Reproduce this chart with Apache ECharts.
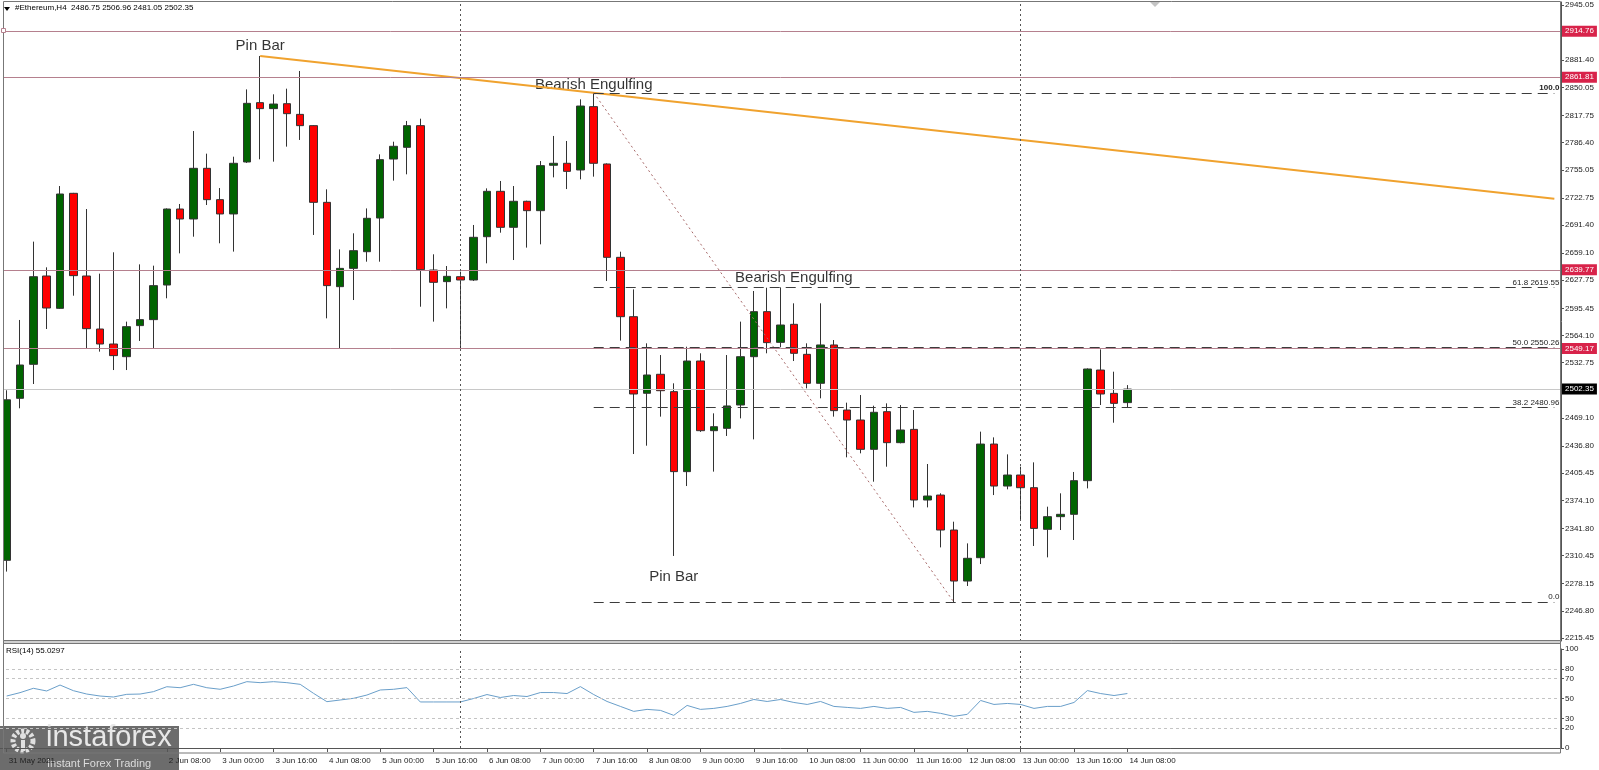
<!DOCTYPE html>
<html><head><meta charset="utf-8">
<script src="https://cdn.jsdelivr.net/npm/echarts@6/dist/echarts.min.js"></script>
<style>html,body{margin:0;padding:0;background:#fff}#c{width:1599px;height:770px}</style>
</head><body><div id="c"></div>
<script>
// ---- data ----
const categories = ['31 May 08:00','31 May 12:00','31 May 16:00','31 May 20:00',
'1 Jun 00:00','1 Jun 04:00','1 Jun 08:00','1 Jun 12:00','1 Jun 16:00','1 Jun 20:00',
'2 Jun 00:00','2 Jun 04:00','2 Jun 08:00','2 Jun 12:00','2 Jun 16:00','2 Jun 20:00',
'3 Jun 00:00','3 Jun 04:00','3 Jun 08:00','3 Jun 12:00','3 Jun 16:00','3 Jun 20:00',
'4 Jun 00:00','4 Jun 04:00','4 Jun 08:00','4 Jun 12:00','4 Jun 16:00','4 Jun 20:00',
'5 Jun 00:00','5 Jun 04:00','5 Jun 08:00','5 Jun 12:00','5 Jun 16:00','5 Jun 20:00',
'6 Jun 00:00','6 Jun 04:00','6 Jun 08:00','6 Jun 12:00','6 Jun 16:00','6 Jun 20:00',
'7 Jun 00:00','7 Jun 04:00','7 Jun 08:00','7 Jun 12:00','7 Jun 16:00','7 Jun 20:00',
'8 Jun 00:00','8 Jun 04:00','8 Jun 08:00','8 Jun 12:00','8 Jun 16:00','8 Jun 20:00',
'9 Jun 00:00','9 Jun 04:00','9 Jun 08:00','9 Jun 12:00','9 Jun 16:00','9 Jun 20:00',
'10 Jun 00:00','10 Jun 04:00','10 Jun 08:00','10 Jun 12:00','10 Jun 16:00','10 Jun 20:00',
'11 Jun 00:00','11 Jun 04:00','11 Jun 08:00','11 Jun 12:00','11 Jun 16:00','11 Jun 20:00',
'12 Jun 00:00','12 Jun 04:00','12 Jun 08:00','12 Jun 12:00','12 Jun 16:00','12 Jun 20:00',
'13 Jun 00:00','13 Jun 04:00','13 Jun 08:00','13 Jun 12:00','13 Jun 16:00','13 Jun 20:00',
'14 Jun 00:00','14 Jun 04:00','14 Jun 08:00'];
const padCount = 32; // empty bars to the right of the last candle

const opens = [2305,2491.7,2530.9,2632.7,2595.4,2728.0,2632.7,2571.6,2554.3,2539.7,
2575.5,2582.4,2622.3,2709.9,2698.4,2756.8,2720.7,2704.2,2764.1,2832.5,
2825.6,2831.3,2819.0,2806.0,2717.6,2620.4,2641.5,2660.7,2699.5,2767.5,
2781.0,2806.0,2639.6,2626.2,2631.9,2628.1,2678.0,2730.3,2688.8,2718.8,
2708.0,2760.3,2762.6,2754.9,2827.9,2761.8,2654.2,2585.8,2497.5,2519.4,
2499.4,2407.2,2534.7,2454.4,2457.1,2484.0,2539.7,2591.6,2556.2,2577.0,
2542.4,2509.0,2553.2,2478.2,2466.7,2432.9,2476.3,2440.6,2455.9,2374.5,
2380.2,2339.9,2281.1,2308.0,2439.0,2390.6,2403.3,2388.7,2340.7,2355.3,
2358.0,2396.8,2524.3,2497.4,2486.75];
const closes = [2490,2530.1,2631.9,2595.8,2727.2,2633.1,2572.0,2554.3,2540.9,2574.3,
2582.4,2621.6,2709.9,2698.4,2756.8,2720.7,2704.2,2762.6,2831.7,2825.6,
2830.9,2819.8,2806.0,2717.6,2621.6,2641.5,2661.9,2699.2,2766.8,2782.2,
2806.0,2640.0,2625.4,2632.3,2628.1,2677.3,2730.3,2688.8,2718.8,2708.0,
2759.9,2762.6,2753.3,2828.6,2762.6,2654.2,2585.8,2496.7,2518.6,2500.5,
2407.2,2534.7,2454.4,2459.0,2482.9,2539.7,2591.6,2555.9,2576.2,2543.6,
2509.0,2553.2,2477.5,2466.7,2432.9,2475.6,2440.6,2455.2,2374.5,2379.1,
2339.9,2281.1,2307.3,2439.0,2390.6,2403.3,2388.7,2341.8,2355.3,2358.0,
2396.8,2525.5,2496.7,2485.9,2502.35];
const lows = [2292,2480.2,2508.2,2571.6,2594.7,2610.0,2548.9,2545.5,2524.3,2524.3,
2557.8,2548.9,2607.0,2658.8,2678.0,2714.5,2670.4,2660.8,2763.0,2767.2,
2764.5,2781.8,2789.5,2680.0,2583.9,2549.3,2605.0,2649.2,2649.2,2742.6,
2749.9,2597.3,2580.1,2595.4,2549.3,2627.0,2647.3,2682.6,2651.1,2665.4,
2669.2,2746.4,2732.9,2744.1,2747.2,2626.9,2558.2,2427.5,2437.1,2470.6,
2310.0,2390.6,2453.0,2407.2,2448.3,2468.6,2444.4,2543.6,2550.5,2534.7,
2503.2,2491.7,2470.6,2423.7,2428.3,2395.6,2412.9,2439.8,2366.0,2366.0,
2319.9,2256.64,2275.4,2300.7,2380.2,2386.8,2351.4,2321.5,2308.4,2339.9,
2328.4,2387.9,2484.0,2463.6,2481.05];
const highs = [2501,2582.0,2672.3,2642.7,2736.4,2728.5,2709.9,2635.4,2660.0,2580.1,
2646.1,2644.6,2710.6,2715.7,2799.8,2773.7,2734.1,2770.2,2847.8,2886.3,
2842.1,2848.6,2869.0,2806.5,2732.6,2663.4,2681.9,2710.6,2772.9,2787.5,
2811.4,2814.0,2657.7,2644.2,2637.7,2691.5,2733.7,2742.2,2736.4,2719.5,
2765.2,2794.1,2788.3,2836.3,2843.89,2762.5,2660.7,2617.3,2555.1,2541.6,
2509.0,2551.2,2543.6,2474.4,2541.6,2580.1,2615.4,2619.2,2619.6,2601.2,
2555.1,2601.2,2558.9,2486.7,2495.5,2483.2,2485.9,2484.0,2478.2,2416.0,
2382.2,2349.5,2324.5,2453.3,2446.7,2427.1,2412.9,2417.9,2366.8,2382.2,
2406.8,2526.2,2548.1,2522.4,2506.96];
const rsi = [52.5,55.9,60.3,57.6,63.6,57.9,54.5,52.5,51.5,54.2,
54.5,56.9,61.9,60.9,64.3,60.9,59.3,62.6,67,66,
67,66,64.3,55.2,46.8,48.5,50.2,53.5,58.6,59.3,
61,46.5,46.5,46.5,46.5,50,54,51,53,52,
56,56,55,62,54,47,42,37,39,38,
33,43,39,40,42,45,49,47,49,46,
44,47,42,41,40,42,40,41,36,37,
35,32,34,48,44,45,44,40,42,42,
46,58,55,53,55.03];

const priceTicks = [2945.05,2881.40,2850.05,2817.75,2786.40,2755.05,2722.75,2691.40,2659.10,
2627.75,2595.45,2564.10,2532.75,2469.10,2436.80,2405.45,2374.10,2341.80,2310.45,2278.15,2246.80,2215.45];
const rsiTicks = [0,20,30,50,70,80,100];
const rsiLevels = [20,30,50,70,80];
const levelPrices = [2914.76,2861.81,2639.77,2549.17];
const lastPrice = 2502.35;
const fibLevels = [
  {pct:'100.0', price:2843.89}, {pct:'61.8', price:2619.55}, {pct:'50.0', price:2550.26},
  {pct:'38.2', price:2480.96}, {pct:'0.0', price:2256.64}];
const fibStart = {idx:44, price:2843.89};
const fibEnd = {idx:71, price:2256.64};
const trendIdx = [19, 116];
const trendPrice = [2886.3, 2721.8];
const separatorIdx = [34, 76];
const xTickLabels = ['31 May 2021','','','2 Jun 08:00','3 Jun 00:00','3 Jun 16:00','4 Jun 08:00',
'5 Jun 00:00','5 Jun 16:00','6 Jun 08:00','7 Jun 00:00','7 Jun 16:00','8 Jun 08:00','9 Jun 00:00',
'9 Jun 16:00','10 Jun 08:00','11 Jun 00:00','11 Jun 16:00','12 Jun 08:00','13 Jun 00:00',
'13 Jun 16:00','14 Jun 08:00'];
const labelStep = 4;
const notes = [
  {text:'Pin Bar', idx:19, price:2897.8},
  {text:'Bearish Engulfing', idx:44, price:2852.8},
  {text:'Bearish Engulfing', idx:59, price:2630.9},
  {text:'Pin Bar', idx:50, price:2286.3}];

// ---- build ----
const allCats = categories.concat(Array.from({length: padCount}, (_, k) => 'pad' + k));
const lastCat = allCats[allCats.length - 1];
const candleData = opens.map((o, i) => [o, closes[i], lows[i], highs[i]]);
const FONT = 'Liberation Sans';
const FS = 8;

const mainLines = [];
levelPrices.forEach(v => mainLines.push({
  yAxis: v, symbol: ['none', v === levelPrices[0] ? 'emptyRect' : 'none'], symbolSize: 5,
  lineStyle: {color: '#b5808e', width: 1, type: 'solid'},
  label: {show: true, position: 'end', formatter: v.toFixed(2), backgroundColor: '#d8234a',
    color: '#fff', fontSize: FS, fontFamily: FONT, padding: [2, 3, 1, 3], distance: 1}
}));
mainLines.push({
  yAxis: lastPrice, lineStyle: {color: '#c8c8c8', width: 1, type: 'solid'},
  label: {show: true, position: 'end', formatter: lastPrice.toFixed(2), backgroundColor: '#000',
    color: '#fff', fontSize: FS, fontFamily: FONT, padding: [2, 3, 1, 3], distance: 1}
});
fibLevels.forEach(f => mainLines.push([
  {coord: [allCats[fibStart.idx], f.price],
   lineStyle: {color: '#3c3c3c', width: 1, type: [10, 6]},
   label: {show: true, position: 'insideEndTop', distance: [-5, 1],
     formatter: f.pct === '0.0' ? '0.0' : (f.pct === '100.0' ? '100.0' : f.pct + ' ' + f.price.toFixed(2)),
     color: '#222', fontSize: FS, fontFamily: FONT, fontWeight: f.pct === '100.0' ? 'bold' : 'normal'}},
  {coord: [lastCat, f.price]}
]));
separatorIdx.forEach(i => mainLines.push({
  xAxis: allCats[i], lineStyle: {color: '#555', width: 1, type: [2, 3]}, label: {show: false}
}));

const rsiLines = [];
rsiLevels.forEach(v => rsiLines.push({yAxis: v, lineStyle: {color: '#c4c4c4', width: 1, type: [3, 3]}, label: {show: false}}));
separatorIdx.forEach(i => rsiLines.push({xAxis: allCats[i], lineStyle: {color: '#555', width: 1, type: [2, 3]}, label: {show: false}}));

const isTick = (idx) => idx % labelStep === 0 && idx / labelStep < xTickLabels.length;

const chart = echarts.init(document.getElementById('c'), null, {renderer: 'canvas'});
chart.setOption({
  animation: false,
  backgroundColor: '#fff',
  textStyle: {fontFamily: FONT},
  grid: [
    {left: -4, right: 38, top: 2, height: 639},
    {left: -4, right: 38, top: 649, height: 99}
  ],
  xAxis: [
    {type: 'category', gridIndex: 0, data: allCats, boundaryGap: true,
     axisLine: {show: false}, axisTick: {show: false}, axisLabel: {show: false}, splitLine: {show: false}},
    {type: 'category', gridIndex: 1, data: allCats, boundaryGap: true, offset: 5,
     axisLine: {show: true, lineStyle: {color: '#555', width: 1}},
     axisTick: {show: true, alignWithLabel: true, length: 4, interval: (i) => isTick(i) && xTickLabels[i / labelStep] !== '', lineStyle: {color: '#555'}},
     axisLabel: {show: true, interval: (i) => isTick(i), align: 'left', margin: 4, padding: [0, 0, 0, 2],
       fontSize: FS, color: '#222', fontFamily: FONT,
       formatter: (v, i) => isTick(i) ? xTickLabels[i / labelStep] : ''},
     splitLine: {show: false}}
  ],
  yAxis: [
    {type: 'value', gridIndex: 0, position: 'right', min: 2211.99, max: 2948.51, scale: true,
     axisLine: {show: true, lineStyle: {color: '#555'}},
     axisTick: {show: true, length: 3, customValues: priceTicks, lineStyle: {color: '#555'}},
     axisLabel: {show: true, customValues: priceTicks, formatter: (v) => v.toFixed(2), fontSize: FS,
       color: '#222', margin: 4, fontFamily: FONT},
     splitLine: {show: false}},
    {type: 'value', gridIndex: 1, position: 'right', min: 0, max: 100,
     axisLine: {show: true, lineStyle: {color: '#555'}},
     axisTick: {show: true, length: 3, customValues: rsiTicks, lineStyle: {color: '#555'}},
     axisLabel: {show: true, customValues: rsiTicks, fontSize: FS, color: '#222', margin: 4, fontFamily: FONT},
     splitLine: {show: false}}
  ],
  series: [
    {type: 'candlestick', xAxisIndex: 0, yAxisIndex: 0, data: candleData, barWidth: 8,
     itemStyle: {color: '#006400', color0: '#ff0000', borderColor: '#333', borderColor0: '#333', borderWidth: 1},
     markLine: {silent: true, symbol: 'none', animation: false, data: mainLines}},
    {type: 'line', xAxisIndex: 0, yAxisIndex: 0, symbol: 'none', silent: true,
     data: trendIdx.map((i, k) => [allCats[i], trendPrice[k]]),
     lineStyle: {color: '#f0a22e', width: 2}},
    {type: 'line', xAxisIndex: 0, yAxisIndex: 0, symbol: 'none', silent: true,
     data: [[allCats[fibStart.idx], fibStart.price], [allCats[fibEnd.idx], fibEnd.price]],
     lineStyle: {color: '#a86a6a', width: 1, type: [2, 3]}},
    {type: 'scatter', xAxisIndex: 0, yAxisIndex: 0, symbolSize: 0, silent: true,
     data: notes.map(n => ({value: [allCats[n.idx], n.price], name: n.text})),
     label: {show: true, position: 'inside', formatter: (p) => p.name, color: '#000', fontSize: 15, fontFamily: FONT}},
    {type: 'line', xAxisIndex: 1, yAxisIndex: 1, symbol: 'none', silent: true, data: rsi,
     lineStyle: {color: '#6a9fca', width: 1},
     markLine: {silent: true, symbol: 'none', animation: false, data: rsiLines}}
  ],
  graphic: [
    {type: 'rect', z: 50, shape: {x: 0, y: 0, width: 3.5, height: 726}, style: {fill: '#fff'}},
    {type: 'rect', z: 51, shape: {x: 3.5, y: 1.5, width: 1557, height: 639}, style: {fill: 'none', stroke: '#777', lineWidth: 1}},
    {type: 'rect', z: 51, shape: {x: 3.5, y: 640.5, width: 1557, height: 3}, style: {fill: '#d0d0d0', stroke: '#777', lineWidth: 1}},
    {type: 'rect', z: 51, shape: {x: 3.5, y: 643.5, width: 1557, height: 109.5}, style: {fill: 'none', stroke: '#777', lineWidth: 1}},
    {type: 'rect', z: 52, shape: {x: 1.5, y: 28.5, width: 4, height: 4}, style: {fill: '#fff', stroke: '#b5808e', lineWidth: 1}},
    {type: 'polygon', shape: {points: [[4, 7], [10, 7], [7, 11]]}, style: {fill: '#000'}},
    {type: 'text', left: 15, top: 4, style: {text: '#Ethereum,H4  2486.75 2506.96 2481.05 2502.35', font: '8px "Liberation Sans"', fill: '#000'}},
    {type: 'polygon', shape: {points: [[1150, 2], [1160, 2], [1155, 7]]}, style: {fill: '#c4c4c4'}},
    {type: 'text', left: 6, top: 647, style: {text: 'RSI(14) 55.0297', font: '8px "Liberation Sans"', fill: '#000'}},
    {type: 'group', z: 100, children: [
      {type: 'rect', shape: {x: 0, y: 726, width: 179, height: 44}, style: {fill: 'rgba(88,88,88,0.88)'}},
      {type: 'circle', shape: {cx: 23, cy: 741, r: 10}, style: {fill: 'none', stroke: '#e0e0e0', lineWidth: 5, lineDash: [3, 2]}},
      {type: 'circle', shape: {cx: 23, cy: 736, r: 3}, style: {fill: '#e0e0e0'}},
      {type: 'rect', shape: {x: 21, y: 740, width: 4, height: 11}, style: {fill: '#e0e0e0'}},
      {type: 'text', x: 46, y: 723, style: {text: 'instaforex', font: '29px "Liberation Sans"', fill: '#e8e8e8'}},
      {type: 'text', x: 47, y: 758, style: {text: 'Instant Forex Trading', font: '11px "Liberation Sans"', fill: '#dcdcdc'}}
    ]}
  ]
});
</script></body></html>
